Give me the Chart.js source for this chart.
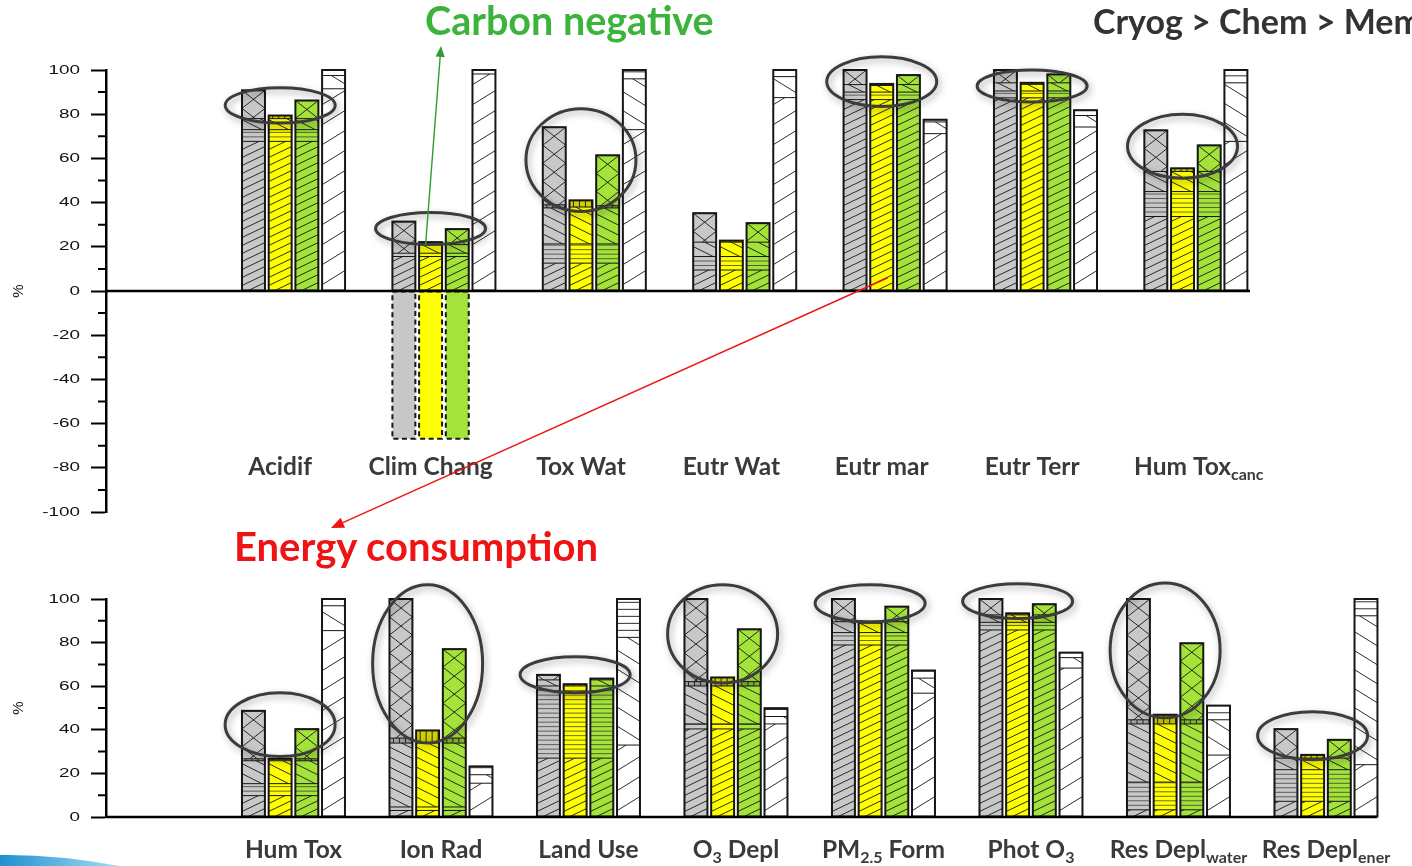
<!DOCTYPE html>
<html>
<head>
<meta charset="utf-8">
<title>Impact categories</title>
<script src="https://cdn.jsdelivr.net/npm/chart.js@4.4.1/dist/chart.umd.min.js"></script>
<style>
  html, body { margin: 0; padding: 0; background: #fff; }
  body { position: relative; width: 1412px; height: 866px; overflow: hidden; font-family: Lato, 'Open Sans', sans-serif; }
  canvas { position: absolute; left: 0; }
  #upper { top: 0; }
  #lower { top: 580px; }
  .note { position: absolute; font-weight: 700; white-space: nowrap; line-height: 1; font-family: Lato, sans-serif; }
  #carbon { left: 425px; top: 0px; font-size: 39.5px; color: #3cb43c; }
  #cryo { left: 1093px; top: 4px; font-size: 34px; color: #333333; }
  #energy { left: 234px; top: 526px; font-size: 40px; color: #ee1414; }
  #swoosh { position: absolute; left: 0; top: 846px; }
</style>
</head>
<body>
<canvas id="upper" width="1412" height="580"></canvas>
<canvas id="lower" width="1412" height="286"></canvas>
<div class="note" id="carbon">Carbon negative</div>
<div class="note" id="cryo">Cryog &gt; Chem &gt; Mem</div>
<div class="note" id="energy">Energy consumption</div>
<svg id="swoosh" width="130" height="20" viewBox="0 0 130 20">
  <defs>
    <linearGradient id="sw" x1="0" y1="0" x2="1" y2="0">
      <stop offset="0" stop-color="#1f8fd0"/>
      <stop offset="1" stop-color="#a8dcf5"/>
    </linearGradient>
  </defs>
  <path d="M0,20 L0,9 Q55,8 120,20 Z" fill="url(#sw)"/>
</svg>
<script>
// ---------- upper panel ----------
const upperCategories = ['Acidif', 'Clim Chang', 'Tox Wat', 'Eutr Wat', 'Eutr mar', 'Eutr Terr', 'Hum Tox_{canc}'];

// contributions (%) stacked bottom -> top: "/" , "=" , "\" , band, "X"
const upperGreyFwd    = [67.7, 15.6, 12.6, 9.5, 86.6, 87.4, 33.7];
const upperGreyHoriz  = [5.3, 1.5, 8.7, 6.1, 3.4, 3.1, 11.3];
const upperGreyBack   = [5.0, 0, 16.3, 6.5, 3.4, 3.7, 9.1];
const upperGreyBand   = [0, 0, 1.4, 0, 0, 0, 0];
const upperGreyCross  = [12.8, 14.3, 35.1, 13.1, 6.6, 5.8, 18.6];

const upperYellowFwd   = [67.7, 15.6, 12.6, 9.5, 86.6, 87.4, 33.7];
const upperYellowHoriz = [5.3, 1.5, 8.7, 6.1, 3.4, 3.1, 11.3];
const upperYellowBack  = [5.0, 3.9, 16.7, 6.5, 3.0, 3.0, 9.1];
const upperYellowBand  = [1.4, 1.1, 3.0, 0.7, 0.7, 0.7, 1.4];
const upperYellowCross = [0, 0, 0, 0, 0, 0, 0];

const upperGreenFwd   = [67.7, 15.6, 12.6, 9.5, 86.6, 87.4, 33.7];
const upperGreenHoriz = [5.3, 1.5, 8.7, 6.1, 3.4, 3.1, 11.3];
const upperGreenBack  = [5.0, 3.9, 16.3, 6.5, 3.4, 3.7, 9.1];
const upperGreenBand  = [0, 0, 1.0, 0, 0, 0, 0];
const upperGreenCross = [8.2, 7.0, 22.8, 8.6, 4.3, 3.8, 11.8];

// credit below zero (climate change only)
const upperNegative = [0, -66.8, 0, 0, 0, 0, 0];

// reference bar: "/" , "\" , blank top
const upperWhiteFwd   = [91.5, 98.2, 73.0, 87.5, 71.2, 74.2, 67.7];
const upperWhiteBack  = [6.0, 0, 23.0, 9.5, 5.3, 5.2, 26.5];
const upperWhiteHoriz = [2.5, 1.8, 4.0, 3.0, 1.0, 2.4, 5.8];

const upperTicks = [-100, -80, -60, -40, -20, 0, 20, 40, 60, 80, 100];

// ---------- lower panel ----------
const lowerCategories = ['Hum Tox', 'Ion Rad', 'Land Use', 'O_{3} Depl', 'PM_{2.5} Form', 'Phot O_{3}', 'Res Depl_{water}', 'Res Depl_{ener}'];

const lowerGreyFwd   = [9.8, 3.0, 27.0, 40.4, 78.9, 85.8, 3.3, 7.2];
const lowerGreyHoriz = [5.5, 1.6, 33.1, 2.3, 5.7, 3.5, 12.7, 14.5];
const lowerGreyBack  = [10.5, 29.3, 2.8, 17.4, 5.0, 3.4, 26.7, 5.3];
const lowerGreyBand  = [0.9, 2.3, 0, 2.0, 0, 0, 1.9, 0];
const lowerGreyCross = [22.0, 63.8, 2.3, 37.9, 10.4, 7.3, 55.4, 13.3];

const lowerYellowFwd   = [9.8, 3.0, 27.0, 40.4, 78.9, 85.8, 3.3, 7.2];
const lowerYellowHoriz = [5.5, 1.6, 33.1, 2.3, 5.7, 3.5, 12.7, 14.5];
const lowerYellowBack  = [10.5, 29.3, 0, 17.4, 4.3, 3.4, 26.7, 5.3];
const lowerYellowBand  = [0.9, 5.8, 0.8, 3.9, 0.7, 0.7, 4.2, 1.5];
const lowerYellowCross = [0, 0, 0, 0, 0, 0, 0, 0];

const lowerGreenFwd   = [9.8, 3.0, 27.0, 40.4, 78.9, 85.8, 3.3, 7.2];
const lowerGreenHoriz = [5.5, 1.6, 33.1, 2.3, 5.7, 3.5, 12.7, 14.5];
const lowerGreenBack  = [10.5, 29.3, 2.8, 17.4, 5.0, 3.4, 26.7, 5.3];
const lowerGreenBand  = [0.9, 2.3, 0, 2.0, 0, 0, 1.9, 0];
const lowerGreenCross = [13.6, 40.8, 0.6, 24.0, 6.9, 4.9, 35.1, 8.4];

const lowerWhiteFwd   = [85.5, 15.5, 33.0, 42.7, 56.8, 68.3, 28.4, 24.0];
const lowerWhiteBack  = [11.4, 3.9, 49.4, 3.4, 6.9, 4.8, 16.2, 68.3];
const lowerWhiteHoriz = [3.1, 3.8, 17.6, 3.8, 3.5, 2.3, 6.5, 7.7];

const lowerTicks = [0, 20, 40, 60, 80, 100];

// highlighted groups: category index and the value span the ring covers
const upperRings = [
  { cat: 0, lo: 76, hi: 92 },
  { cat: 1, lo: 21, hi: 35.5 },
  { cat: 2, lo: 36, hi: 82.5 },
  { cat: 4, lo: 83.5, hi: 106 },
  { cat: 5, lo: 85.5, hi: 100 },
  { cat: 6, lo: 51, hi: 80 }
];
const lowerRings = [
  { cat: 0, lo: 27.7, hi: 57 },
  { cat: 1, lo: 34, hi: 106.5 },
  { cat: 2, lo: 57, hi: 73.5 },
  { cat: 3, lo: 61.5, hi: 106.5 },
  { cat: 4, lo: 89.5, hi: 106.5 },
  { cat: 5, lo: 91, hi: 107 },
  { cat: 6, lo: 45.5, hi: 107.3 },
  { cat: 7, lo: 26.3, hi: 48.3 }
];

const COLORS = { grey: '#c8c8c8', yellow: '#ffff00', green: '#a4e33a', white: '#ffffff' };
const INK = '#161616';

// ---------- hatching ----------
function drawHatch(ctx, kind, plain, l, t, r, b) {
  const w = r - l;
  ctx.strokeStyle = INK;
  ctx.lineWidth = 0.9;
  ctx.beginPath();
  if (kind === 'fwd') {
    const m = plain ? 0.62 : 0.48, s = plain ? 20 : 8;
    for (let y0 = b + m * w; y0 > t - s; y0 -= s) { ctx.moveTo(l, y0); ctx.lineTo(r, y0 - m * w); }
  } else if (kind === 'back') {
    const m = plain ? 0.62 : 0.5, s = plain ? 19 : 10;
    for (let y0 = b; y0 > t - m * w - s; y0 -= s) { ctx.moveTo(l, y0); ctx.lineTo(r, y0 + m * w); }
  } else if (kind === 'horiz') {
    const s = plain ? 7 : 4.5;
    if (!plain) { ctx.strokeStyle = 'rgba(40,40,40,0.75)'; }
    for (let y = b - s; y > t + 0.5; y -= s) { ctx.moveTo(l, y); ctx.lineTo(r, y); }
  } else if (kind === 'cross') {
    const h = 18;
    for (let y0 = t; y0 < b; y0 += h) {
      ctx.moveTo(l, y0); ctx.lineTo(r, y0 + h);
      ctx.moveTo(l, y0 + h); ctx.lineTo(r, y0);
    }
  } else if (kind === 'band') {
    ctx.save();
    ctx.fillStyle = 'rgba(0,0,0,0.18)';
    ctx.fillRect(l, t, w, b - t);
    ctx.restore();
    for (let x = l + 4; x < r; x += 6) { ctx.moveTo(x, t); ctx.lineTo(x, b); }
  }
  ctx.stroke();
}

function buildDatasets(p) {
  const list = [];
  const add = (stack, hatch, data, extra) => list.push(Object.assign({
    stack, hatch, data, plain: stack === 'white',
    backgroundColor: COLORS[stack]
  }, extra || {}));
  ['grey', 'yellow', 'green'].forEach(c => {
    add(c, 'fwd', p[c].fwd);
    add(c, 'horiz', p[c].horiz);
    add(c, 'back', p[c].back);
    add(c, 'band', p[c].band);
    add(c, 'cross', p[c].cross);
    if (p.negative) add(c, 'none', p.negative, { dashed: true });
  });
  add('white', 'fwd', p.white.fwd);
  add('white', 'back', p.white.back);
  add('white', 'horiz', p.white.horiz);
  return list;
}

function parseRich(text) {
  const parts = [];
  text.split(/(_\{[^}]*\})/).forEach(s => {
    if (!s) return;
    const m = s.match(/^_\{(.*)\}$/);
    parts.push(m ? { t: m[1], sub: true } : { t: s, sub: false });
  });
  return parts;
}

// centreOnLead: centre the leading plain run, letting a trailing subscript hang to the right
function drawRichLabel(ctx, text, cx, baseline, centreOnLead) {
  const parts = parseRich(text);
  const mainFont = 'bold 24.5px Lato', subFont = 'bold 16px Lato';
  let total = 0;
  parts.forEach(p => { ctx.font = p.sub ? subFont : mainFont; p.w = ctx.measureText(p.t).width; total += p.w; });
  const span = centreOnLead ? parts[0].w : total;
  let x = cx - span / 2;
  ctx.fillStyle = '#3a3a3a';
  ctx.textAlign = 'left';
  ctx.textBaseline = 'alphabetic';
  parts.forEach(p => {
    ctx.font = p.sub ? subFont : mainFont;
    ctx.fillText(p.t, x, baseline + (p.sub ? 5 : 0));
    x += p.w;
  });
}

function drawArrow(ctx, x1, y1, x2, y2, color, width, head) {
  const a = Math.atan2(y2 - y1, x2 - x1);
  const bx = x2 - head * Math.cos(a), by = y2 - head * Math.sin(a);
  const hw = head * 0.42;
  ctx.save();
  ctx.strokeStyle = color; ctx.fillStyle = color; ctx.lineWidth = width;
  ctx.beginPath(); ctx.moveTo(x1, y1); ctx.lineTo(bx, by); ctx.stroke();
  ctx.beginPath();
  ctx.moveTo(x2, y2);
  ctx.lineTo(bx + hw * Math.sin(a), by - hw * Math.cos(a));
  ctx.lineTo(bx - hw * Math.sin(a), by + hw * Math.cos(a));
  ctx.closePath(); ctx.fill();
  ctx.restore();
}

function stackElement(chart, stack, index) {
  const di = chart.data.datasets.findIndex(d => d.stack === stack);
  return chart.getDatasetMeta(di).data[index];
}

function makeDecor(cfg) {
  return {
    id: 'decor',
    afterDatasetsDraw(chart) {
      const ctx = chart.ctx;
      const ys = chart.scales.y, area = chart.chartArea;
      const outlines = new Map();
      chart.data.datasets.forEach((ds, di) => {
        const meta = chart.getDatasetMeta(di);
        meta.data.forEach((el, i) => {
          if (!ds.data[i]) return;
          const p = el.getProps(['x', 'y', 'base', 'width'], true);
          const l = p.x - p.width / 2, r = p.x + p.width / 2;
          const t = Math.min(p.y, p.base), b = Math.max(p.y, p.base);
          if (ds.dashed) {
            ctx.save();
            ctx.setLineDash([5, 3.5]);
            ctx.lineWidth = 2;
            ctx.strokeStyle = INK;
            ctx.strokeRect(l, t, r - l, b - t);
            ctx.restore();
            return;
          }
          ctx.save();
          ctx.beginPath(); ctx.rect(l, t, r - l, b - t); ctx.clip();
          drawHatch(ctx, ds.hatch, ds.plain, l, t, r, b);
          ctx.restore();
          ctx.save();
          ctx.strokeStyle = INK; ctx.lineWidth = 1;
          ctx.beginPath(); ctx.moveTo(l, t); ctx.lineTo(r, t); ctx.stroke();
          ctx.restore();
          const key = ds.stack + ':' + i;
          const o = outlines.get(key);
          if (o) { o.t = Math.min(o.t, t); o.b = Math.max(o.b, b); }
          else outlines.set(key, { l, r, t, b });
        });
      });
      ctx.save();
      ctx.strokeStyle = INK; ctx.lineWidth = 2;
      outlines.forEach(o => ctx.strokeRect(o.l, o.t, o.r - o.l, o.b - o.t));
      ctx.restore();

      // zero line and minor ticks
      ctx.save();
      ctx.strokeStyle = '#000';
      ctx.lineWidth = 2.5;
      const y0 = ys.getPixelForValue(0);
      ctx.beginPath(); ctx.moveTo(area.left, y0); ctx.lineTo(area.right, y0); ctx.stroke();
      ctx.lineWidth = 2;
      ctx.beginPath();
      for (let v = ys.min + 10; v < ys.max; v += 20) {
        const y = ys.getPixelForValue(v);
        ctx.moveTo(area.left - 8, y); ctx.lineTo(area.left, y);
      }
      ctx.stroke();
      ctx.restore();

      // tick values, drawn with the wide lettering of the axis
      ctx.save();
      ctx.font = '13px "Liberation Sans", Arial, sans-serif';
      ctx.fillStyle = '#111';
      ctx.textAlign = 'right';
      ctx.textBaseline = 'middle';
      cfg.ticks.forEach(v => {
        ctx.save();
        ctx.translate(area.left - 26, ys.getPixelForValue(v));
        ctx.scale(1.45, 1);
        ctx.fillText(String(v), 0, 0);
        ctx.restore();
      });
      ctx.restore();

      // rings around highlighted groups
      cfg.rings.forEach(rg => {
        const el = stackElement(chart, 'yellow', rg.cat);
        const yt = ys.getPixelForValue(rg.hi), yb = ys.getPixelForValue(rg.lo);
        ctx.save();
        ctx.shadowColor = 'rgba(0,0,0,0.35)';
        ctx.shadowBlur = 7; ctx.shadowOffsetX = 2; ctx.shadowOffsetY = 3;
        ctx.strokeStyle = '#3c3c3c'; ctx.lineWidth = 3;
        ctx.beginPath();
        ctx.ellipse(el.x, (yt + yb) / 2, 55, (yb - yt) / 2, 0, 0, Math.PI * 2);
        ctx.stroke();
        ctx.restore();
      });

      // category names
      ctx.save();
      cfg.labels.forEach((text, i) => {
        const cx = cfg.labelOnFirstThree ? stackElement(chart, 'yellow', i).x : chart.scales.x.getPixelForValue(i);
        drawRichLabel(ctx, text, cx, cfg.labelBaseline, cfg.labelOnFirstThree);
      });
      ctx.restore();

      if (cfg.arrows) cfg.arrows(chart, ctx);
    }
  };
}

function makeChart(id, p, cfg) {
  const canvas = document.getElementById(id);
  return new Chart(canvas, {
    type: 'bar',
    data: { labels: p.labels.map((_, i) => i), datasets: buildDatasets(p) },
    options: {
      responsive: false,
      animation: false,
      devicePixelRatio: 1,
      layout: { padding: cfg.padding },
      datasets: { bar: { categoryPercentage: cfg.catPct, barPercentage: 0.86, borderWidth: 0, inflateAmount: 0 } },
      plugins: { legend: { display: false }, tooltip: { enabled: false } },
      scales: {
        x: {
          type: 'linear', display: false, stacked: true, offset: false,
          min: cfg.xMin, max: cfg.xMax,
          grid: { offset: false },
          // one tick per category so bar widths follow the category spacing
          afterBuildTicks: s => { s.ticks = p.labels.map((_, i) => ({ value: i })); }
        },
        y: {
          stacked: true,
          min: p.ticks[0], max: p.ticks[p.ticks.length - 1],
          afterFit: s => { s.width = 106; },
          afterBuildTicks: s => { s.ticks = p.ticks.map(v => ({ value: v })); },
          border: { display: true, color: '#000', width: 2.5 },
          grid: { drawOnChartArea: false, drawTicks: true, tickLength: 15, tickColor: '#000', tickWidth: 2 },
          ticks: { display: false },
          title: { display: true, text: '%', color: '#111', padding: { top: 10, bottom: 0 }, font: { family: 'Liberation Sans', size: 15 } }
        }
      }
    },
    plugins: [makeDecor(Object.assign({ labels: p.labels, ticks: p.ticks }, cfg))]
  });
}

makeChart('upper', {
  labels: upperCategories,
  ticks: upperTicks,
  grey:   { fwd: upperGreyFwd, horiz: upperGreyHoriz, back: upperGreyBack, band: upperGreyBand, cross: upperGreyCross },
  yellow: { fwd: upperYellowFwd, horiz: upperYellowHoriz, back: upperYellowBack, band: upperYellowBand, cross: upperYellowCross },
  green:  { fwd: upperGreenFwd, horiz: upperGreenHoriz, back: upperGreenBack, band: upperGreenBand, cross: upperGreenCross },
  white:  { fwd: upperWhiteFwd, back: upperWhiteBack, horiz: upperWhiteHoriz },
  negative: upperNegative
}, {
  padding: { left: 0, top: 70, right: 162, bottom: 68 },
  xMin: -1.247, xMax: 6.36, catPct: 0.71,
  rings: upperRings,
  labelOnFirstThree: true,
  labelBaseline: 475,
  arrows: (chart, ctx) => {
    const ys = chart.scales.y;
    const clim = stackElement(chart, 'yellow', 1);
    drawArrow(ctx, clim.x - 5, ys.getPixelForValue(21), 441, 46, '#2f9e2f', 1.4, 11);
    const mar = stackElement(chart, 'yellow', 4);
    drawArrow(ctx, mar.x + 6, ys.getPixelForValue(6), 331, 528, '#ee1414', 1.4, 13);
  }
});

makeChart('lower', {
  labels: lowerCategories,
  ticks: lowerTicks,
  grey:   { fwd: lowerGreyFwd, horiz: lowerGreyHoriz, back: lowerGreyBack, band: lowerGreyBand, cross: lowerGreyCross },
  yellow: { fwd: lowerYellowFwd, horiz: lowerYellowHoriz, back: lowerYellowBack, band: lowerYellowBand, cross: lowerYellowCross },
  green:  { fwd: lowerGreenFwd, horiz: lowerGreenHoriz, back: lowerGreenBack, band: lowerGreenBand, cross: lowerGreenCross },
  white:  { fwd: lowerWhiteFwd, back: lowerWhiteBack, horiz: lowerWhiteHoriz }
}, {
  padding: { left: 0, top: 19, right: 35, bottom: 49 },
  xMin: -1.271, xMax: 7.346, catPct: 0.7236,
  rings: lowerRings,
  labelOnFirstThree: false,
  labelBaseline: 278
});
</script>
</body>
</html>
